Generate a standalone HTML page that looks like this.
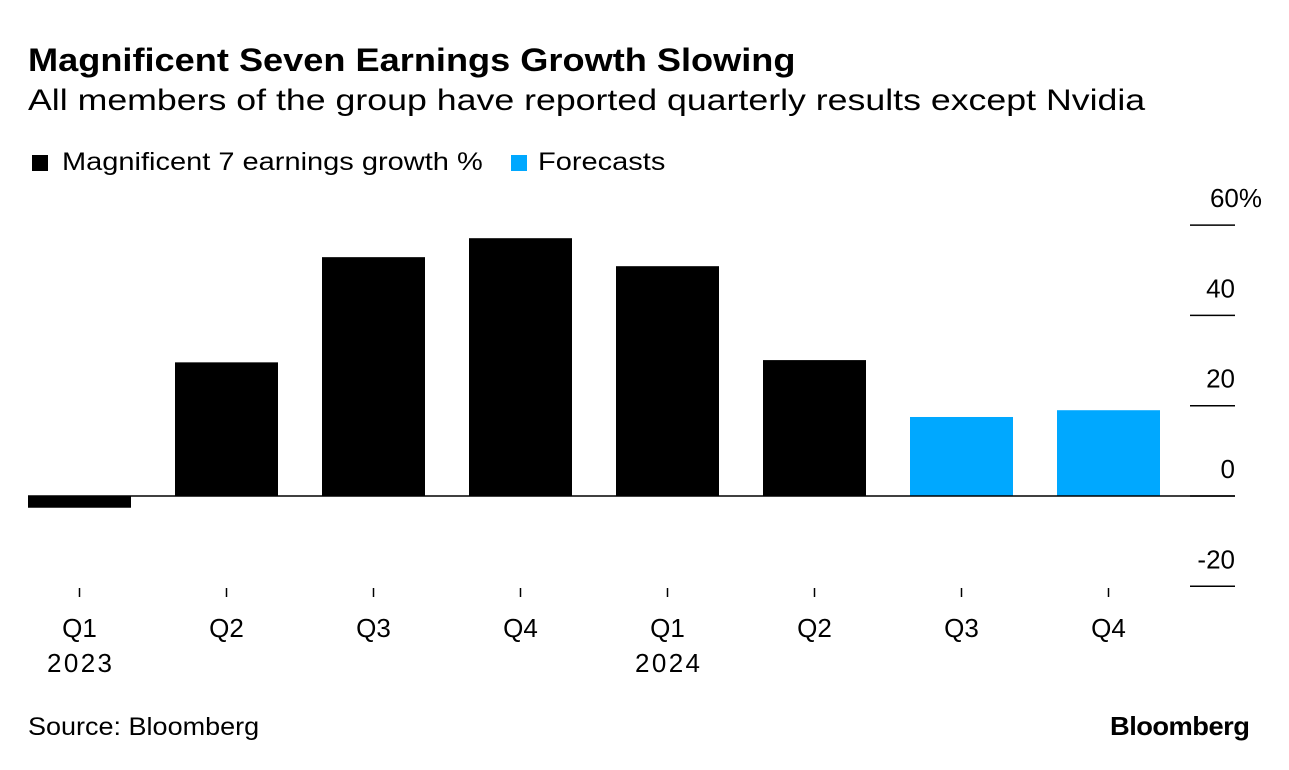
<!DOCTYPE html>
<html><head><meta charset="utf-8"><style>
body{margin:0;width:1289px;height:770px;background:#fff;font-family:"Liberation Sans",sans-serif;overflow:hidden;position:relative}
.t{position:absolute;white-space:nowrap;color:#000;transform-origin:0 0}
</style></head><body>
<div class="t" style="left:28px;top:42px;font-size:32px;font-weight:bold;transform:scaleX(1.13)">Magnificent Seven Earnings Growth Slowing</div>
<div class="t" style="left:28px;top:84px;font-size:30px;transform:scaleX(1.19)">All members of the group have reported quarterly results except Nvidia</div>
<div style="position:absolute;left:32px;top:155px;width:16px;height:16px;background:#000"></div>
<div class="t" style="left:62px;top:148px;font-size:25px;transform:scaleX(1.16)">Magnificent 7 earnings growth %</div>
<div style="position:absolute;left:511px;top:155px;width:16px;height:16px;background:#00a8ff"></div>
<div class="t" style="left:538px;top:148px;font-size:25px;transform:scaleX(1.16)">Forecasts</div>
<svg id="chart" width="1289" height="770" style="position:absolute;left:0;top:0"></svg>
<div class="t" style="left:28px;top:713px;font-size:25px;transform:scaleX(1.08)">Source: Bloomberg</div>
<div class="t" style="left:1110px;top:711px;font-size:26px;font-weight:bold;letter-spacing:-0.5px;transform:scaleX(1.05)">Bloomberg</div>
<script>
const quarters=["Q1","Q2","Q3","Q4","Q1","Q2","Q3","Q4"];
const years=["2023","","","","2024","","",""];
const values=[-2.6,29.6,52.9,57.1,50.9,30.1,17.5,19.0];
const isForecast=[false,false,false,false,false,false,true,true];
const yTicks=[60,40,20,0,-20];
const yTickLabels=["60%","40","20","0","-20"];
const svg=document.getElementById('chart');
const NS="http://www.w3.org/2000/svg";
function y(v){return 496-v*4.515;}
function xc(i){return 79.5+i*147;}
const bw=103;
const FF='Liberation Sans, sans-serif';
function mk(tag,attrs){const e=document.createElementNS(NS,tag);for(const k in attrs)e.setAttribute(k,attrs[k]);svg.appendChild(e);return e;}
yTicks.forEach((t,i)=>{
  const l=mk('line',{x1:1190,x2:1235,y1:y(t),y2:y(t),stroke:'#000','stroke-width':1.5});
  
  
  const isPct=yTickLabels[i].indexOf('%')>=0;
  const tx=mk('text',{x:isPct?1262:1235,y:y(t)-18,'text-anchor':'end','font-size':26,'font-family':FF});
  tx.textContent=yTickLabels[i];
  
  
});
values.forEach((v,i)=>{
  const top=Math.min(y(v),y(0)),h=Math.abs(y(v)-y(0));
  const r=mk('rect',{x:xc(i)-bw/2,y:top,width:bw,height:h,fill:isForecast[i]?'#00a8ff':'#000'});
  
  
  const tk=mk('line',{x1:xc(i),x2:xc(i),y1:588,y2:597,stroke:'#000','stroke-width':1.5});
  
  
  const q=mk('text',{x:xc(i),y:637,'text-anchor':'middle','font-size':26,'font-family':FF});
  q.textContent=quarters[i];
  
  
  if(years[i]){
    const yr=mk('text',{x:xc(i),y:672,'text-anchor':'middle','font-size':26,'font-family':FF,textLength:65});
    yr.textContent=years[i];
    
    
  }
});
const z=mk('line',{x1:28,x2:1235,y1:y(0),y2:y(0),stroke:'#000','stroke-width':1.5});


</script>
</body></html>
